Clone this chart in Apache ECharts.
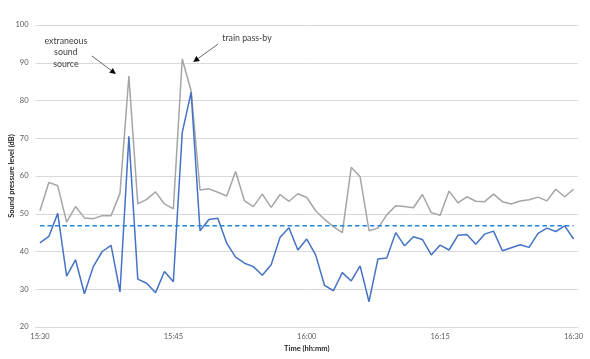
<!DOCTYPE html>
<html>
<head>
<meta charset="utf-8">
<script src="https://cdn.jsdelivr.net/npm/echarts@6/dist/echarts.min.js"></script>
<style>
html,body{margin:0;padding:0;background:#fff;}
#chart{width:590px;height:359px;}
</style>
</head>
<body>
<div id="chart"></div>
<script>
// ---- data ----
const startHour = 15, startMin = 30, nPoints = 61;
const categories = [];
for (let i = 0; i < nPoints; i++) {
  const t = startHour * 60 + startMin + i;
  categories.push(Math.floor(t / 60) + ':' + String(t % 60).padStart(2, '0'));
}
const lasBroadband = [
  50.8, 58.3, 57.4, 47.8, 51.9, 48.9, 48.7, 49.5, 49.5, 55.4,
  86.5, 52.6, 53.8, 55.8, 52.6, 51.3, 91.0, 82.5, 56.3, 56.6,
  55.7, 54.7, 61.2, 53.4, 51.9, 55.2, 51.7, 55.1, 53.3, 55.3,
  54.3, 50.8, 48.5, 46.6, 45.0, 62.3, 59.8, 45.5, 46.2, 49.7,
  52.1, 51.9, 51.6, 55.1, 50.3, 49.6, 56.0, 52.9, 54.5, 53.3,
  53.2, 55.2, 53.2, 52.6, 53.4, 53.7, 54.4, 53.4, 56.5, 54.5, 56.5
];
const ls25k = [
  42.3, 44.0, 50.1, 33.5, 37.8, 28.8, 36.0, 40.0, 41.6, 29.3,
  70.5, 32.7, 31.6, 29.1, 34.7, 32.0, 71.5, 82.2, 45.5, 48.5,
  48.8, 42.2, 38.5, 36.9, 36.0, 33.7, 36.5, 43.8, 46.3, 40.4,
  43.3, 39.1, 31.0, 29.6, 34.4, 32.2, 36.2, 26.7, 38.0, 38.3,
  45.0, 41.5, 43.9, 43.2, 39.1, 41.7, 40.4, 44.3, 44.5, 41.9,
  44.6, 45.4, 40.2, 41.0, 41.8, 41.1, 44.8, 46.2, 45.3, 46.8, 43.3
];
const typicalLs25k = 46.8;
const typicalLine = categories.map(() => typicalLs25k);
const seriesNames = ['LASmax,1min (broadband)', 'Lsmax,1min at 2.5kHz', 'Typical Lsmax at 2.5kHz'];
const annotations = [
  { text: 'extraneous\nsound\nsource', idx: 10 },
  { text: 'train pass-by', idx: 16 }
];

// ---- chart ----
const FONT = 'Lato';
const txt = '#595959';
const chart = echarts.init(document.getElementById('chart'), null, { renderer: 'canvas' });
chart.setOption({
  animation: false,
  backgroundColor: '#ffffff',
  textStyle: { fontFamily: FONT },
  legend: {
    top: 3,
    left: 'center',
    itemWidth: 20,
    itemHeight: 8,
    itemGap: 28,
    textStyle: { fontFamily: FONT, fontSize: 8, color: txt },
    data: seriesNames.map(n => ({ name: n, icon: 'path://M0,0 L1,0' }))
  },
  grid: { left: 35.5, right: 12, top: 25, bottom: 32, containLabel: false, outerBoundsMode: 'none' },
  xAxis: {
    type: 'category',
    data: categories,
    boundaryGap: true,
    name: 'Time (hh:mm)',
    nameLocation: 'middle',
    nameGap: 18,
    nameMoveOverlap: false,
    nameTextStyle: { fontFamily: FONT, fontSize: 7.5, fontWeight: 'bold', color: '#262626' },
    axisLine: { lineStyle: { color: '#D9D9D9', width: 1 } },
    axisTick: { show: false },
    axisLabel: { interval: 14, fontFamily: FONT, fontSize: 7.5, color: txt, margin: 6 },
    splitLine: { show: false }
  },
  yAxis: {
    type: 'value',
    min: 20, max: 100, interval: 10,
    name: 'Sound pressure level (dB)',
    nameLocation: 'middle',
    nameGap: 20,
    nameRotate: 90,
    nameMoveOverlap: false,
    nameTextStyle: { fontFamily: FONT, fontSize: 7.5, fontWeight: 'bold', color: '#262626' },
    axisLine: { show: false },
    axisTick: { show: false },
    axisLabel: { fontFamily: FONT, fontSize: 7.5, color: txt, margin: 7 },
    splitLine: { lineStyle: { color: '#D9D9D9', width: 1 } }
  },
  series: [
    {
      name: seriesNames[0], type: 'line', data: lasBroadband,
      symbol: 'none', lineStyle: { color: '#A5A5A5', width: 1.5 }, itemStyle: { color: '#A5A5A5' }, z: 2
    },
    {
      name: seriesNames[1], type: 'line', data: ls25k,
      symbol: 'none', lineStyle: { color: '#4472C4', width: 1.5 }, itemStyle: { color: '#4472C4' }, z: 3
    },
    {
      name: seriesNames[2], type: 'line', data: typicalLine,
      symbol: 'none', lineStyle: { color: '#2485DC', width: 1.5, type: [4.5, 3] }, itemStyle: { color: '#2485DC' }, z: 4
    }
  ]
});

// annotations anchored to data points
function px(idx, val) { return chart.convertToPixel({ gridIndex: 0 }, [idx, val]); }
function arrow(x1, y1, x2, y2) {
  const a = Math.atan2(y2 - y1, x2 - x1), L = 6, W = 3;
  const bx = x2 - L * Math.cos(a), by = y2 - L * Math.sin(a);
  const nx = -Math.sin(a) * W, ny = Math.cos(a) * W;
  return [
    { type: 'line', shape: { x1, y1, x2: bx, y2: by }, style: { stroke: '#404040', lineWidth: 0.8 }, silent: true },
    { type: 'polygon', shape: { points: [[x2, y2], [bx + nx, by + ny], [bx - nx, by - ny]] }, style: { fill: '#000' }, silent: true }
  ];
}
const p1 = px(annotations[0].idx, lasBroadband[annotations[0].idx]);
const p2 = px(annotations[1].idx, lasBroadband[annotations[1].idx]);
const g = [];
g.push({
  type: 'text', x: p1[0] - 63, y: p1[1] - 41,
  style: { text: annotations[0].text, fontFamily: FONT, fontSize: 8.8, fill: '#404040', align: 'center', lineHeight: 11.5 }, silent: true
});
g.push(...arrow(p1[0] - 37, p1[1] - 20, p1[0] - 13, p1[1] - 2));
g.push({
  type: 'text', x: p2[0] + 40, y: p2[1] - 25,
  style: { text: annotations[1].text, fontFamily: FONT, fontSize: 8.8, fill: '#404040', align: 'left' }, silent: true
});
g.push(...arrow(p2[0] + 36, p2[1] - 15, p2[0] + 11, p2[1] + 3));
chart.setOption({ graphic: g });
</script>
</body>
</html>
